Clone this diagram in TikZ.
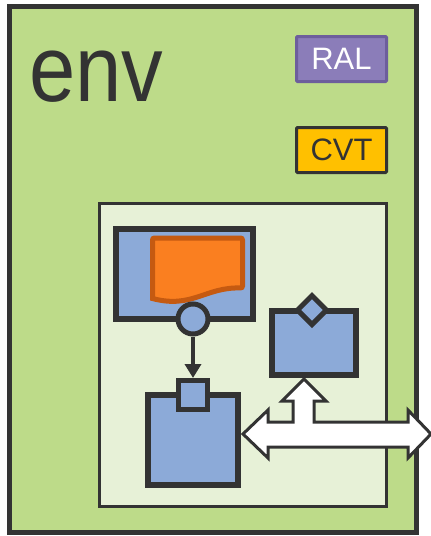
\documentclass[tikz,border=0pt]{standalone}
\usepackage{fontspec}
\setmainfont{Liberation Sans}
\usetikzlibrary{arrows.meta,shapes.geometric}
\definecolor{envgreen}{HTML}{BDDB89}
\definecolor{innergreen}{HTML}{E7F1D7}
\definecolor{boxblue}{HTML}{8CAAD8}
\definecolor{ralfill}{HTML}{8B7DB9}
\definecolor{raldraw}{HTML}{6D5E9C}
\definecolor{cvtfill}{HTML}{FFC000}
\definecolor{docfill}{HTML}{FA7F20}
\definecolor{docdraw}{HTML}{C55A11}
\definecolor{dark}{HTML}{333333}
\tikzset{
  bluebox/.style={draw=dark, fill=boxblue, line width=6pt, minimum width=#1, inner sep=0pt, outer sep=0pt},
  tagbox/.style={line width=3pt, minimum width=90pt, minimum height=45pt, inner sep=0pt, rounded corners=1pt, font=\fontsize{31}{31}\selectfont},
  blockarrow/.style={draw=dark, fill=white, line width=3pt, line join=miter}
}
\begin{document}
\begin{tikzpicture}[x=1pt,y=-1pt]
\useasboundingbox (0,0) rectangle (431,536);
\fill[white] (0,0) rectangle (431,536);
% env container
\node[draw=dark, fill=envgreen, line width=5pt, minimum width=406.5pt, minimum height=526pt, inner sep=0pt] (env) at (212.75,269) {};
\node[anchor=base west, text=dark, font=\fontsize{94}{94}\selectfont, inner sep=0pt] (envlabel) at (29,101) {\scalebox{0.885}[1]{env}};
% tags
\node[tagbox, draw=raldraw, fill=ralfill, text=white] (ral) at (341.5,59) {RAL};
\node[tagbox, draw=dark, fill=cvtfill, text=dark] (cvt) at (341.5,150) {CVT};
% inner container
\node[draw=dark, fill=innergreen, line width=3pt, minimum width=287pt, minimum height=303pt, inner sep=0pt] (inner) at (243,355) {};
% top-left box
\node[bluebox=137pt, minimum height=90pt] (topbox) at (184.5,274) {};
% document shape
\draw[draw=docdraw, fill=docfill, line width=5pt, rounded corners=2pt]
  (152.5,238) -- (242.5,238) -- (242.5,288)
  [sharp corners] .. controls (205,287) and (192,309) .. (152.5,298.5) [rounded corners=2pt] -- cycle;
% circle port
\node[circle, draw=dark, fill=boxblue, line width=5pt, minimum size=30pt, inner sep=0pt] (port) at (193,319) {};
% bottom-left box and its small square port
\node[bluebox=90pt, minimum height=90pt] (bigbox) at (193,440) {};
\node[draw=dark, fill=boxblue, line width=5pt, minimum width=29pt, minimum height=29pt, inner sep=0pt] (sq) at (193,395) {};
% right box and diamond port
\node[bluebox=84pt, minimum height=64pt] (rightbox) at (314,343) {};
\node[diamond, draw=dark, fill=boxblue, line width=5pt, minimum width=31pt, minimum height=31pt, inner sep=0pt] (dia) at (312,310) {};
% connector
\draw[draw=dark, line width=4pt, -{Triangle[length=14pt,width=16pt]}] (port.south) -- (sq.north);
% block arrows (union)
\coordinate (ltip) at (243,434);
\coordinate (rtip) at (431,434);
\coordinate (utip) at (304,379);
\draw[blockarrow]
  (ltip) -- (268,410) -- (268,422) -- (293,422) -- (293,401) -- (282,401) -- (utip)
  -- (326,401) -- (314,401) -- (314,422) -- (408,422) -- (408,410) -- (rtip)
  -- (408,458) -- (408,447) -- (268,447) -- (268,458) -- cycle;
\end{tikzpicture}
\end{document}
